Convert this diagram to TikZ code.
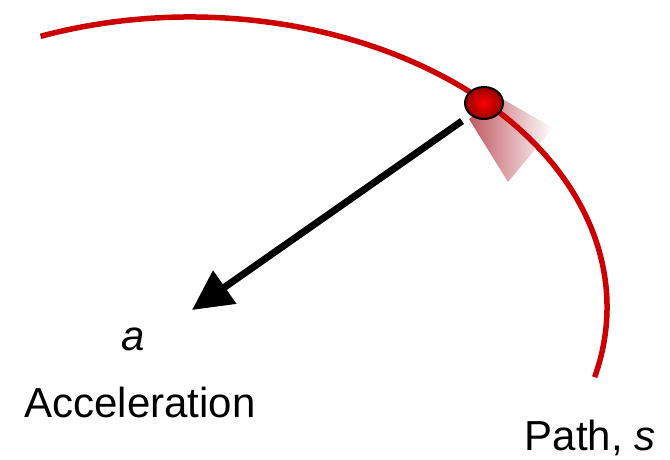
\documentclass[tikz,border=0pt]{standalone}
\usepackage{fontspec}
\setmainfont{Liberation Sans}
\usepackage{tikz}
\usetikzlibrary{shapes.geometric, arrows.meta, positioning}
\definecolor{pathRed}{RGB}{204,0,0}
\definecolor{ballRed}{RGB}{255,0,0}
\definecolor{ballDark}{RGB}{150,0,0}
\definecolor{wedgeRed}{RGB}{185,70,80}
\tikzset{
    motion/.style={x=1pt, y=-1pt, line cap=butt, line join=round,
                   font=\fontsize{42}{48}\selectfont},
    pathline/.style={draw=pathRed, line width=5.5pt},
    particle/.style={ellipse, draw=black, line width=2pt,
                     inner color=ballRed, outer color=ballDark,
                     minimum width=38pt, minimum height=32pt, inner sep=0pt},
    accel/.style={-{Triangle[length=40pt, width=39pt]}, line width=7pt,
                  draw=black},
    label/.style={anchor=base, inner sep=0pt},
}

\begin{document}
\begin{tikzpicture}[motion]
\useasboundingbox (0,0) rectangle (670,459);

% ─── Zone balayée derrière la particule ─────────────────────────────────
\shade[left color=wedgeRed, right color=white, opacity=0.9]
    (469,119) -- (508,182) -- (553,128) -- (499,97) -- cycle;

% ─── Trajectoire (arc d'ellipse) ────────────────────────────────────────
\coordinate (start) at (40.6,36.3);
\draw[pathline] (start) arc[start angle=-111, end angle=14,
                            x radius=417, y radius=290];

% ─── Particule et accélération ──────────────────────────────────────────
\coordinate (tail) at (462,121);
\coordinate (head) at (192,310);
\draw[accel] (tail) -- (head);
\node[particle] (ball) at (484,103) {};

% ─── Textes ─────────────────────────────────────────────────────────────
\node[label] (sym) at (133,350) {\itshape a};
\node[label] (acc) at (140,417) {Acceleration};
\node[label] (path) at (590,450) {Path, \itshape s};

\end{tikzpicture}
\end{document}
